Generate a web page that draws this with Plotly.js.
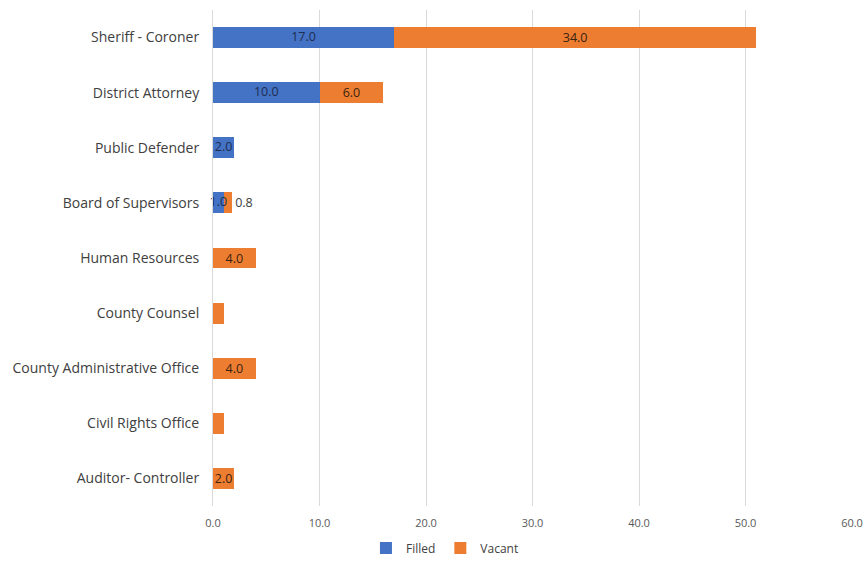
<!DOCTYPE html>
<html>
<head>
<meta charset="utf-8">
<script src="https://cdn.plot.ly/plotly-3.0.1.min.js"></script>
<style>html,body{margin:0;padding:0;background:#fff;}#chart{width:864px;height:562px;}</style>
</head>
<body>
<div id="chart"></div>
<script>
var categories = ["Sheriff - Coroner","District Attorney","Public Defender","Board of Supervisors","Human Resources","County Counsel","County Administrative Office","Civil Rights Office","Auditor- Controller"];
var filled = [17, 10, 2, 1, 0, 0, 0, 0, 0];
var vacant = [34, 6, 0, 0.8, 4, 1, 4, 1, 2];
var filledLabels = ["17.0","10.0","2.0","1.0","","","","",""];
var vacantLabels = ["34.0","6.0","","0.8","4.0","","4.0","","2.0"];
var vacantLabelPos = ["inside","inside","inside","outside","inside","inside","inside","inside","inside"];
var xTicks = [0,10,20,30,40,50,60];

var font = "Open Sans, Liberation Sans, Arial, sans-serif";
// filled labels drawn as an overlay text trace so narrow bars don't clip them
var labelX = filled.map(function(v){ return v/2; });
var traces = [
  {type:"bar", orientation:"h", name:"Filled", y:categories, x:filled,
   marker:{color:"#4472C4"}, hoverinfo:"x+y"},
  {type:"bar", orientation:"h", name:"Vacant", y:categories, x:vacant, text:vacantLabels,
   textposition:vacantLabelPos, insidetextanchor:"middle", constraintext:"none", textangle:0, cliponaxis:false,
   textfont:{family:font,size:12.5,color:"#3a2410"},
   outsidetextfont:{family:font,size:12.5,color:"#404040"},
   marker:{color:"#ED7D31"}, hoverinfo:"x+y"},
  {type:"scatter", mode:"text", x:labelX, y:categories, text:filledLabels, showlegend:false,
   textposition:"middle center", cliponaxis:false,
   textfont:{family:font,size:12.5,color:"#1f2d50"}, hoverinfo:"skip"}
];
var layout = {
  width:864, height:562,
  margin:{l:213, r:12, t:10, b:56},
  barmode:"stack", bargap:0.62,
  paper_bgcolor:"#fff", plot_bgcolor:"#fff",
  font:{family:font, size:12, color:"#404040"},
  xaxis:{range:[0,60], tickvals:xTicks, tickformat:".1f", showgrid:true, gridcolor:"#d9d9d9", gridwidth:1,
         zeroline:false, showline:false, ticks:"", ticklabeloverflow:"allow", ticklabelstandoff:9,
         tickfont:{size:11,color:"#595959"}, fixedrange:true},
  yaxis:{autorange:"reversed", showline:true, linecolor:"#d9d9d9", ticks:"", ticklabelstandoff:10,
         tickfont:{size:14,color:"#404040"}, fixedrange:true},
  showlegend:true,
  legend:{orientation:"h", xref:"container", x:0.515, xanchor:"center", yref:"container", y:0.025, yanchor:"middle",
          font:{size:12,color:"#404040"}, traceorder:"normal", itemwidth:30}
};
Plotly.newPlot("chart", traces, layout, {displayModeBar:false, staticPlot:true});
</script>
</body>
</html>
